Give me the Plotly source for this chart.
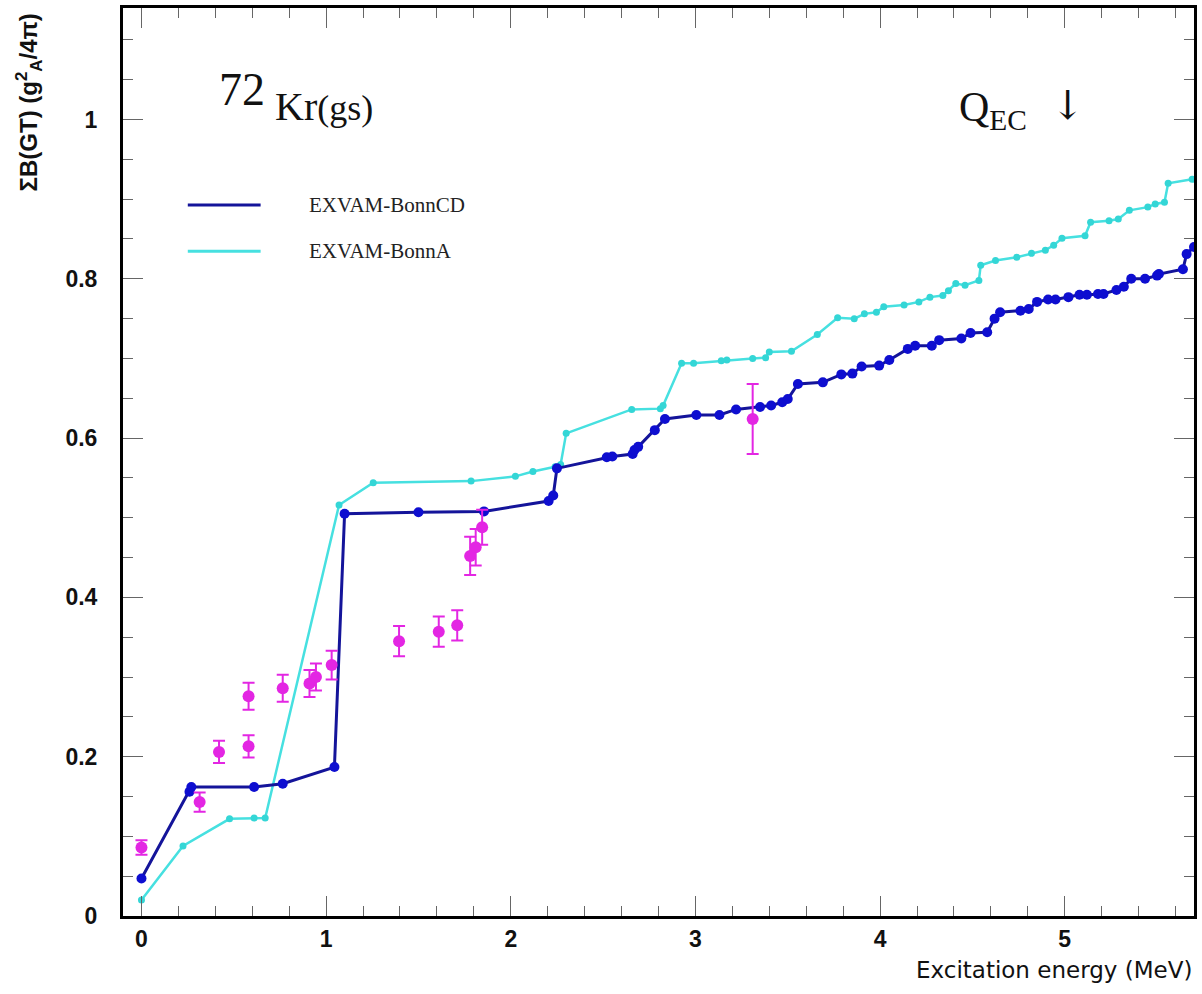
import plotly.graph_objects as go

# Cumulative Gamow-Teller strength, EXVAM with the Bonn CD interaction
bonncd_e = [0.00, 0.26, 0.27, 0.61, 0.765, 1.045, 1.10, 1.50, 1.855, 2.205, 2.23, 2.25,
            2.52, 2.55, 2.66, 2.67, 2.69, 2.78, 2.835, 3.005, 3.13, 3.22, 3.35, 3.41,
            3.47, 3.50, 3.555, 3.69, 3.79, 3.85, 3.90, 3.995, 4.05, 4.15, 4.19, 4.28,
            4.32, 4.44, 4.49, 4.58, 4.62, 4.65, 4.76, 4.805, 4.85, 4.91, 4.95, 5.02,
            5.08, 5.12, 5.18, 5.21, 5.28, 5.32, 5.36, 5.435, 5.50, 5.51, 5.64, 5.66, 5.70]
bonncd_bgt = [0.047, 0.156, 0.162, 0.162, 0.166, 0.187, 0.505, 0.507, 0.508, 0.521, 0.528, 0.562,
              0.576, 0.577, 0.580, 0.585, 0.589, 0.610, 0.624, 0.629, 0.629, 0.636, 0.639, 0.641,
              0.645, 0.649, 0.668, 0.670, 0.680, 0.681, 0.690, 0.691, 0.698, 0.712, 0.716, 0.716,
              0.723, 0.725, 0.732, 0.733, 0.750, 0.758, 0.760, 0.762, 0.771, 0.774, 0.774, 0.777,
              0.780, 0.780, 0.781, 0.781, 0.786, 0.790, 0.800, 0.800, 0.804, 0.806, 0.812, 0.831, 0.840]

# Cumulative Gamow-Teller strength, EXVAM with the Bonn A interaction
bonna_e = [0.00, 0.225, 0.477, 0.61, 0.67, 1.07, 1.255, 1.785, 2.025, 2.12, 2.24, 2.27,
           2.30, 2.655, 2.81, 2.825, 2.925, 2.99, 3.14, 3.17, 3.31, 3.38, 3.40, 3.52,
           3.66, 3.77, 3.86, 3.915, 3.98, 4.02, 4.13, 4.21, 4.27, 4.34, 4.37, 4.41,
           4.46, 4.535, 4.545, 4.625, 4.74, 4.82, 4.895, 4.94, 4.985, 5.11, 5.14, 5.24,
           5.29, 5.35, 5.45, 5.49, 5.54, 5.56, 5.69]
bonna_bgt = [0.020, 0.088, 0.122, 0.123, 0.123, 0.516, 0.544, 0.546, 0.552, 0.558, 0.564, 0.567,
             0.606, 0.636, 0.637, 0.641, 0.694, 0.694, 0.697, 0.698, 0.700, 0.701, 0.708, 0.709,
             0.730, 0.751, 0.750, 0.756, 0.758, 0.765, 0.767, 0.771, 0.777, 0.779, 0.785, 0.794,
             0.792, 0.798, 0.817, 0.823, 0.827, 0.832, 0.836, 0.842, 0.851, 0.854, 0.871, 0.873,
             0.875, 0.886, 0.890, 0.894, 0.896, 0.920, 0.925]

# Measured cumulative strength with uncertainties
exp_e = [0.00, 0.315, 0.42, 0.58, 0.58, 0.765, 0.91, 0.945, 1.03, 1.395, 1.61, 1.71,
         1.78, 1.81, 1.845, 3.31]
exp_bgt = [0.086, 0.143, 0.206, 0.213, 0.276, 0.286, 0.292, 0.300, 0.315, 0.345, 0.357, 0.365,
           0.452, 0.463, 0.488, 0.624]
exp_err = [0.009, 0.012, 0.014, 0.014, 0.017, 0.017, 0.017, 0.017, 0.018, 0.019, 0.019, 0.019,
           0.024, 0.023, 0.022, 0.044]

series_names = ["EXVAM-BonnCD", "EXVAM-BonnA"]

NAVY_LINE = "#14149a"
NAVY_MARK = "#0e0ed0"
CYAN_LINE = "#46e0e0"
CYAN_MARK = "#34d6d6"
MAGENTA = "#e326e3"

fig = go.Figure()

fig.add_trace(go.Scatter(
    x=bonna_e, y=bonna_bgt, mode="lines+markers", name=series_names[1],
    line=dict(color=CYAN_LINE, width=2.5),
    marker=dict(color=CYAN_MARK, size=7),
    showlegend=False,
))
fig.add_trace(go.Scatter(
    x=bonncd_e, y=bonncd_bgt, mode="lines+markers", name=series_names[0],
    line=dict(color=NAVY_LINE, width=3),
    marker=dict(color=NAVY_MARK, size=10),
    showlegend=False,
))
fig.add_trace(go.Scatter(
    x=exp_e, y=exp_bgt, mode="markers", name="experiment",
    marker=dict(color=MAGENTA, size=12),
    error_y=dict(type="data", array=exp_err, color=MAGENTA, thickness=2, width=6),
    showlegend=False,
))

# Hand-drawn key in the upper left corner
legend_rows = [(series_names[0], NAVY_LINE, 0.783), (series_names[1], CYAN_LINE, 0.732)]
for label, colour, ypos in legend_rows:
    fig.add_shape(type="line", xref="paper", yref="paper",
                  x0=0.0605, x1=0.1285, y0=ypos, y1=ypos,
                  line=dict(color=colour, width=3))
    fig.add_annotation(xref="paper", yref="paper", x=0.172, y=ypos,
                       xanchor="left", yanchor="middle", showarrow=False,
                       text=label,
                       font=dict(family="Liberation Serif", size=21, color="#222222"))

serif = "Liberation Serif"
fig.add_annotation(xref="paper", yref="paper", x=0.0875, y=0.910,
                   xanchor="left", yanchor="middle", showarrow=False,
                   text="72", font=dict(family=serif, size=46, color="#111111"))
fig.add_annotation(xref="paper", yref="paper", x=0.1397, y=0.892,
                   xanchor="left", yanchor="middle", showarrow=False,
                   text="Kr<span style='font-size:36px'>(gs)</span>",
                   font=dict(family=serif, size=40, color="#111111"))
fig.add_annotation(xref="paper", yref="paper", x=0.779, y=0.888,
                   xanchor="left", yanchor="middle", showarrow=False,
                   text="Q<sub>EC</sub>",
                   font=dict(family=serif, size=42, color="#111111"))
fig.add_annotation(xref="paper", yref="paper", x=0.8827, y=0.893,
                   xanchor="center", yanchor="middle", showarrow=False,
                   text="↓", font=dict(family="DejaVu Serif", size=40, color="#111111"))

# Axis titles
fig.add_annotation(xref="paper", yref="paper", x=-0.088, y=0.996,
                   xanchor="center", yanchor="top", showarrow=False, textangle=-90,
                   text="ΣB(GT) (g<sup>2</sup><sub>A</sub>/4π)",
                   font=dict(family="Liberation Sans", size=24, color="#111111", weight="bold"))
fig.add_annotation(xref="paper", yref="paper", x=1.0, y=-0.059,
                   xanchor="right", yanchor="middle", showarrow=False,
                   text="Excitation energy (MeV)",
                   font=dict(family="DejaVu Sans", size=23, color="#111111"))

axis_common = dict(
    showline=True, linecolor="black", linewidth=3, mirror="allticks",
    ticks="inside", ticklen=20, tickwidth=1.3, tickcolor="#666666",
    showgrid=False, zeroline=False,
    tickfont=dict(family="Liberation Sans", size=23, color="#111111", weight="bold"),
)

fig.update_xaxes(
    range=[-0.1, 5.7], tick0=0, dtick=1,
    minor=dict(dtick=0.2, ticklen=10, tickwidth=1.3, tickcolor="#666666", ticks="inside", showgrid=False),
    ticklabelstandoff=0,
    **axis_common,
)
fig.update_yaxes(
    range=[0, 1.14], tick0=0, dtick=0.2,
    minor=dict(dtick=0.05, ticklen=10, tickwidth=1.3, tickcolor="#666666", ticks="inside", showgrid=False),
    ticklabelstandoff=18,
    **axis_common,
)

fig.update_layout(
    width=1202, height=994,
    margin=dict(l=123, r=5, t=8, b=78),
    paper_bgcolor="white", plot_bgcolor="white",
    showlegend=False,
)

fig.write_html("out.html")
